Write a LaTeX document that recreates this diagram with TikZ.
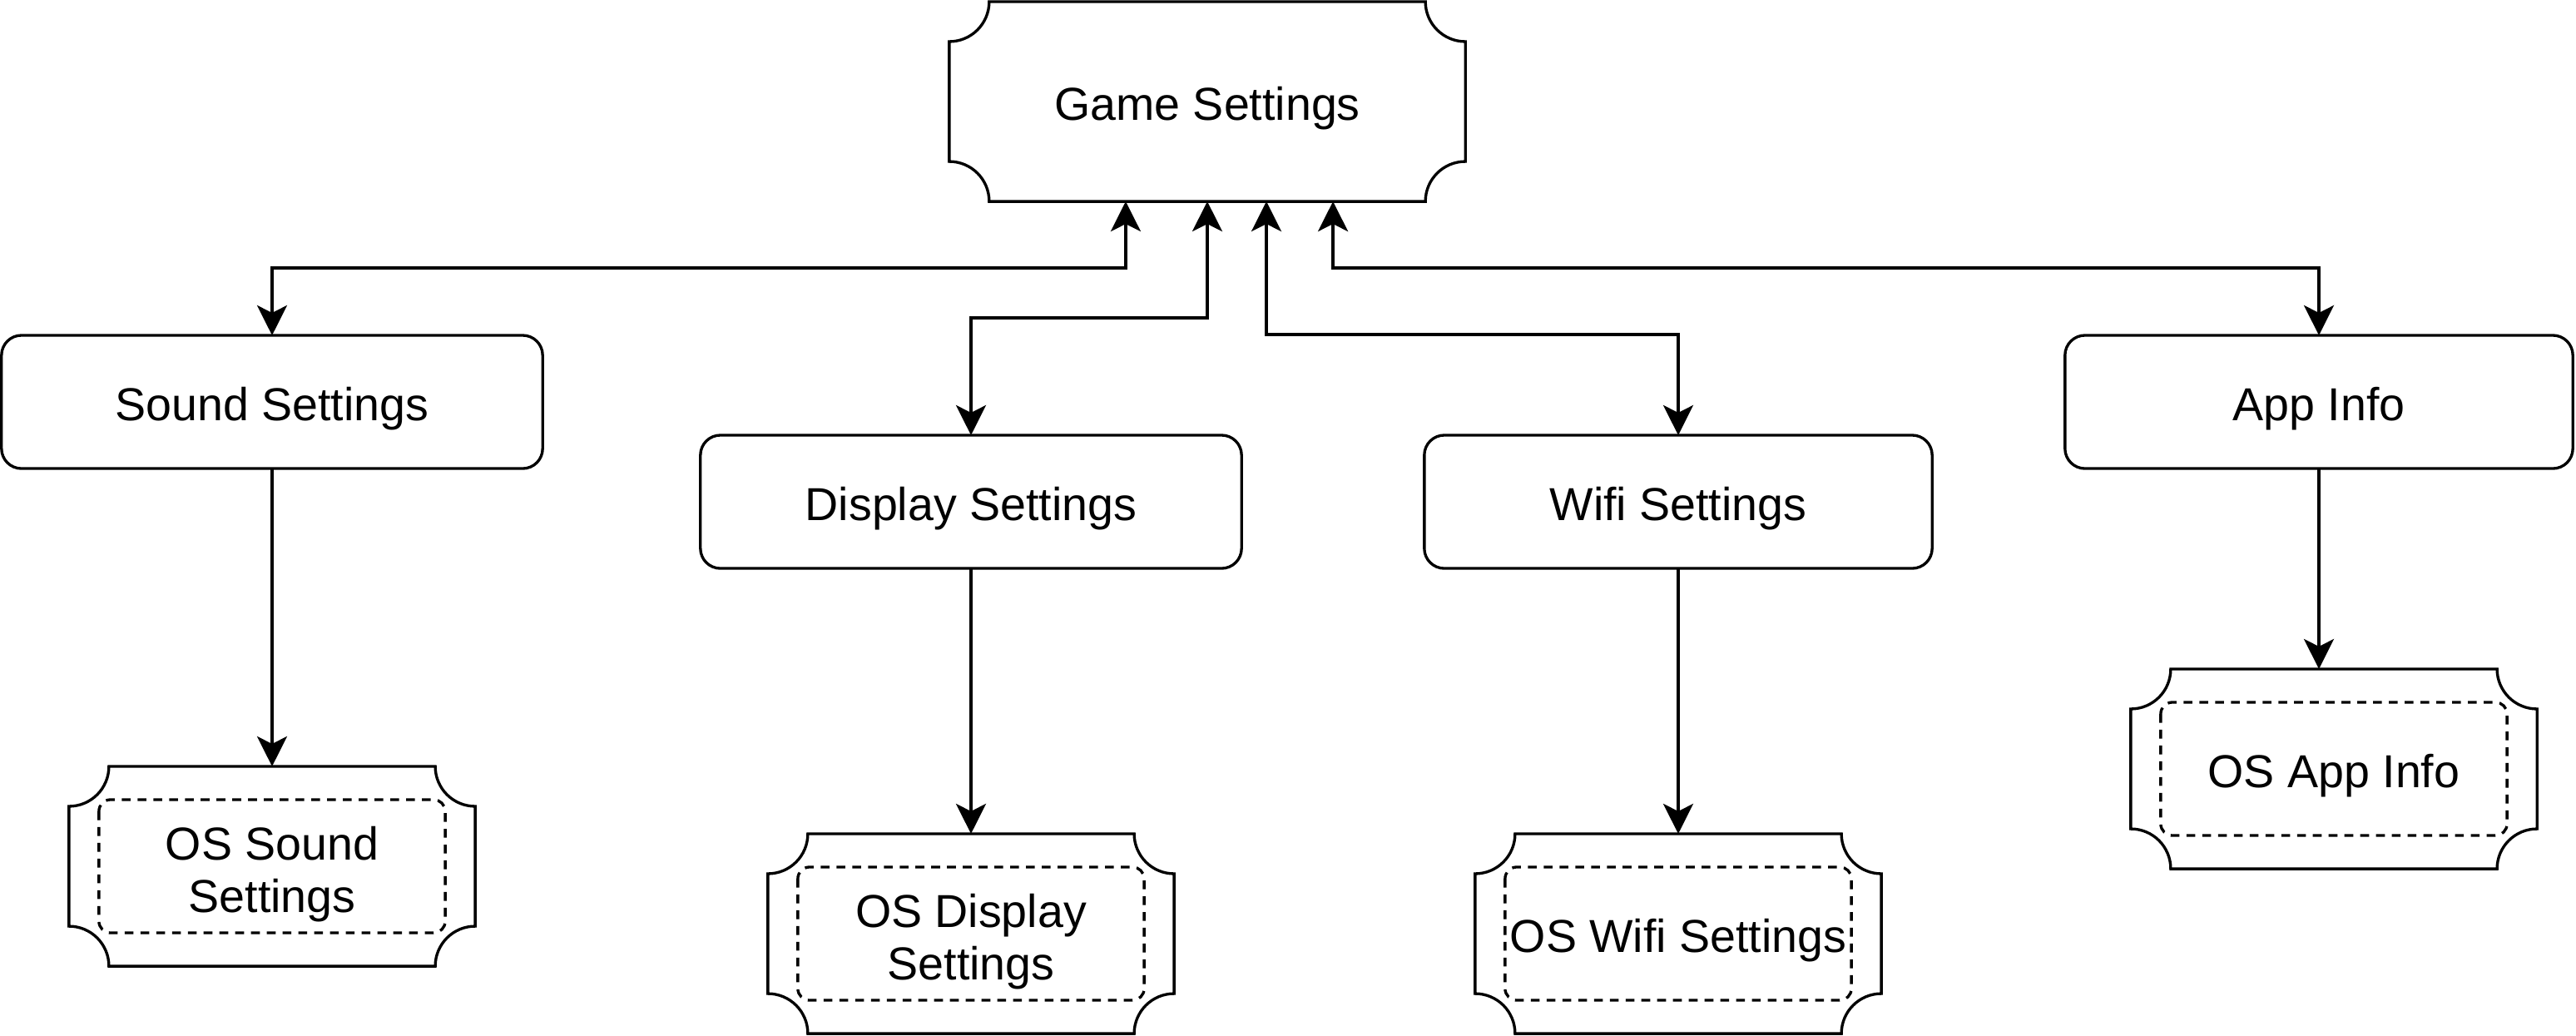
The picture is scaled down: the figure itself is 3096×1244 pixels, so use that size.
\documentclass[tikz,border=0pt]{standalone}
\usepackage{fontspec}
\setmainfont{Liberation Sans}
\usetikzlibrary{positioning, arrows.meta}

% outline with concave corners round a node
\newcommand{\plaqueline}[2][0.48cm]{%
  \draw[line width=0.95pt] ([xshift=#1]#2.north west) -- ([xshift=-#1]#2.north east)
    arc[start angle=180, end angle=270, radius=#1] -- ([yshift=#1]#2.south east)
    arc[start angle=90, end angle=180, radius=#1] -- ([xshift=#1]#2.south west)
    arc[start angle=0, end angle=90, radius=#1] -- ([yshift=-#1]#2.north west)
    arc[start angle=270, end angle=360, radius=#1] -- cycle;}

% same outline, with the dashed frame inside
\newcommand{\osframe}[1]{%
  \plaqueline{#1}
  \draw[line width=0.95pt, dash pattern=on 3pt off 2.4pt, rounded corners=1.4mm]
    ([shift={(0.36cm,-0.40cm)}]#1.north west) rectangle ([shift={(-0.36cm,0.40cm)}]#1.south east);}

% taller first line for two-line labels
\newcommand{\firstln}{\rule{0pt}{17pt}}

\begin{document}
\begin{tikzpicture}[x=0.01cm, y=0.01cm, >={Stealth[length=3.6mm, width=3.6mm, inset=0.9mm]}]
    % Styles
    \tikzstyle{boxtext} = [font=\fontsize{15.8}{18}\selectfont, execute at begin node={\rule{0pt}{16pt}}]
    \tikzstyle{menu} = [boxtext, draw, line width=0.95pt, rounded corners=2.4mm, minimum height=1.6cm, outer sep=0pt]
    \tikzstyle{plaque} = [boxtext, minimum width=4.88cm, minimum height=2.4cm, outer sep=0pt, inner sep=0pt, align=center]
    \tikzstyle{link} = [line width=0.95pt]

    \useasboundingbox (0,0) rectangle (3096,-1244);

    % Nodes
    \node[plaque, minimum width=6.2cm] (game) at (1451,-122) {Game Settings};
    \node[menu, minimum width=6.5cm] (sound) at (327,-483) {Sound Settings};
    \node[menu, minimum width=6.5cm] (display) at (1167,-603) {Display Settings};
    \node[menu, minimum width=6.1cm] (wifi) at (2017,-603) {Wifi Settings};
    \node[menu, minimum width=6.1cm] (app) at (2787,-483) {App Info};
    \node[plaque] (osSound) at (327,-1041) {\firstln OS Sound\\Settings};
    \node[plaque] (osDisplay) at (1167,-1122) {\firstln OS Display\\Settings};
    \node[plaque] (osWifi) at (2017,-1122) {OS Wifi Settings};
    \node[plaque] (osApp) at (2805,-924) {OS App Info};

    % Outlines
    \plaqueline{game}
    \osframe{osSound}
    \osframe{osDisplay}
    \osframe{osWifi}
    \osframe{osApp}

    % Edges
    \draw[link, <->] ([xshift=-0.98cm]game.south) -- ++(0,-80) -| (sound.north);
    \draw[link, <->] (game.south) -- ++(0,-140) -| (display.north);
    \draw[link, <->] ([xshift=0.71cm]game.south) -- ++(0,-160) -| (wifi.north);
    \draw[link, <->] ([xshift=1.51cm]game.south) -- ++(0,-80) -| (app.north);
    \draw[link, ->] (sound.south) -- (osSound.north);
    \draw[link, ->] (display.south) -- (osDisplay.north);
    \draw[link, ->] (wifi.south) -- (osWifi.north);
    \draw[link, ->] (app.south) -- (app.south |- osApp.north);
\end{tikzpicture}
\end{document}
